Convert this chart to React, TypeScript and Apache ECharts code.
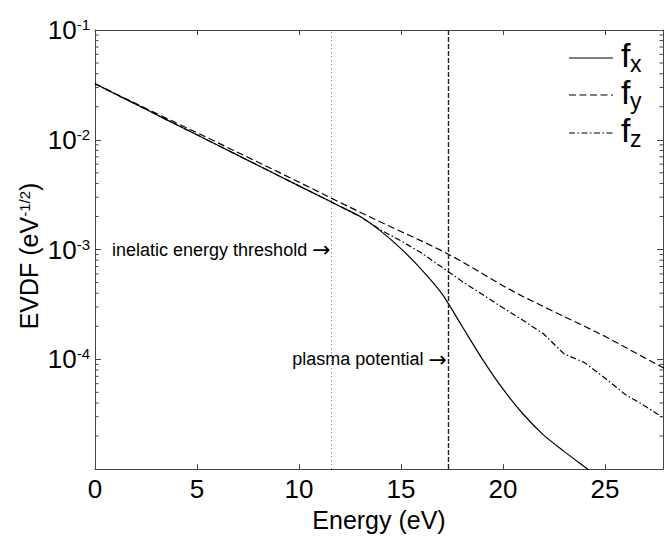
import React, { useEffect, useRef } from "react";
import * as echarts from "echarts";

// ---- data ----
const energy = [0, 1, 2, 3, 4, 5, 6, 7, 8, 9, 10, 11, 12, 13, 14, 15, 16, 17, 18, 19, 20, 21, 22, 23, 24, 25, 26, 27, 28];
const fxValues = [3.24e-2, 2.61e-2, 2.11e-2, 1.7e-2, 1.37e-2, 1.11e-2, 8.95e-3, 7.23e-3, 5.83e-3, 4.71e-3, 3.8e-3, 3.08e-3, 2.48e-3, 2.0e-3, 1.48e-3, 1.02e-3, 6.61e-4, 3.98e-4, 2.0e-4, 1.0e-4, 5.37e-5, 3.16e-5, 2.04e-5, 1.45e-5, 1.05e-5, 7.6e-6];
const fyValues = [3.24e-2, 2.63e-2, 2.14e-2, 1.74e-2, 1.42e-2, 1.16e-2, 9.44e-3, 7.67e-3, 6.24e-3, 5.07e-3, 4.12e-3, 3.33e-3, 2.69e-3, 2.19e-3, 1.78e-3, 1.46e-3, 1.2e-3, 9.77e-4, 7.76e-4, 6.03e-4, 4.68e-4, 3.72e-4, 3.02e-4, 2.45e-4, 2.0e-4, 1.62e-4, 1.29e-4, 1.02e-4, 8.13e-5];
const fzValues = [3.24e-2, 2.61e-2, 2.11e-2, 1.7e-2, 1.37e-2, 1.11e-2, 8.95e-3, 7.23e-3, 5.83e-3, 4.71e-3, 3.8e-3, 3.08e-3, 2.48e-3, 2.0e-3, 1.51e-3, 1.2e-3, 9.33e-4, 6.92e-4, 5.13e-4, 3.89e-4, 2.95e-4, 2.26e-4, 1.7e-4, 1.12e-4, 9.33e-5, 6.76e-5, 4.79e-5, 3.72e-5, 2.82e-5];
const seriesNames = ["x", "y", "z"];
const thresholdEnergy = 11.6;
const plasmaPotential = 17.3;
const annotations = [
  { text: "inelatic energy threshold ", x: 11.6, y: 1e-3 },
  { text: "plasma potential ", x: 17.3, y: 1e-4 },
];
const xMin = 0;
const xMax = 27.85;
const xInterval = 5;
const yMin = 1e-5;
const yMax = 1e-1;
const decades = [1e-5, 1e-4, 1e-3, 1e-2];
const minorMultipliers = [2, 3, 4, 5, 6, 7, 8, 9];

const FONT = "'Liberation Sans', Arial, Helvetica, sans-serif";
const ARROW_FONT = "'DejaVu Sans', sans-serif";
const AXIS_COLOR = "#444";

const dashY = [7, 3.5];
const dashZ = [6, 2.5, 1.5, 2.5];

export default function App() {
  const ref = useRef<HTMLDivElement>(null);

  useEffect(() => {
    if (!ref.current) return;
    const chart = echarts.init(ref.current, undefined, { renderer: "svg" });

    const toPairs = (vals: number[]) => vals.map((v, i) => [energy[i], v]);
    const minorTicks: number[][] = [];
    decades.forEach((d) => minorMultipliers.forEach((m) => minorTicks.push([0, d * m])));

    const lineSeries = [fxValues, fyValues, fzValues].map((vals, i) => ({
      type: "line",
      name: "f" + seriesNames[i],
      data: toPairs(vals),
      xAxisIndex: 0,
      yAxisIndex: 0,
      showSymbol: false,
      symbol: "none",
      smooth: i === 0 ? 0.25 : false,
      clip: true,
      lineStyle: {
        color: "#000",
        width: 1.2,
        type: i === 0 ? "solid" : i === 1 ? dashY : dashZ,
      },
      z: 3,
    }));

    const yLabelRich = {
      b: { fontSize: 26, lineHeight: 26, fontFamily: FONT, color: "#000", padding: [5, 0, 5, 0] },
      s: { fontSize: 15, lineHeight: 15, fontFamily: FONT, color: "#000", verticalAlign: "top" },
    };

    const legendRows = [58, 95, 133];
    const legendDash = [null, dashY, dashZ];
    const graphics: any[] = [];
    legendRows.forEach((ly, i) => {
      graphics.push({
        type: "line",
        shape: { x1: 569, y1: ly, x2: 613, y2: ly },
        style: { stroke: "#000", lineWidth: 1.2, lineDash: legendDash[i] || undefined },
      });
      graphics.push({
        type: "text",
        x: 621,
        y: ly - 3,
        style: { text: "f", fontSize: 34, fontFamily: FONT, fill: "#000", verticalAlign: "middle", align: "left" },
      });
      graphics.push({
        type: "text",
        x: 630,
        y: ly + 5.5,
        style: { text: seriesNames[i], fontSize: 23, fontFamily: FONT, fill: "#000", verticalAlign: "middle", align: "left" },
      });
    });
    // y-axis title
    graphics.push({
      type: "text",
      x: 29,
      y: 256,
      rotation: Math.PI / 2,
      style: {
        text: "{a|EVDF (eV}{s|-1/2}{a|)}",
        align: "center",
        verticalAlign: "middle",
        rich: {
          a: { fontSize: 25, lineHeight: 25, fontFamily: FONT, fill: "#000", color: "#000" },
          s: { fontSize: 15, lineHeight: 15, fontFamily: FONT, fill: "#000", color: "#000", verticalAlign: "top" },
        },
      },
    });

    chart.setOption({
      animation: false,
      backgroundColor: "#fff",
      grid: { left: 95, top: 30, width: 568, height: 449, containLabel: false },
      xAxis: [
        {
          type: "value",
          min: xMin,
          max: xMax,
          interval: xInterval,
          position: "bottom",
          name: "Energy (eV)",
          nameLocation: "middle",
          nameGap: 33,
          nameTextStyle: { fontSize: 25, fontFamily: FONT, color: "#000" },
          axisLine: { show: true, onZero: false, lineStyle: { color: AXIS_COLOR, width: 1 } },
          axisTick: { show: true, inside: true, length: 5, lineStyle: { color: AXIS_COLOR } },
          axisLabel: { fontSize: 26, fontFamily: FONT, color: "#000", margin: 7, showMaxLabel: false },
          splitLine: { show: false },
        },
        {
          type: "value",
          min: xMin,
          max: xMax,
          interval: xInterval,
          position: "top",
          axisLine: { show: true, onZero: false, lineStyle: { color: AXIS_COLOR, width: 1 } },
          axisTick: { show: true, inside: true, length: 5, lineStyle: { color: AXIS_COLOR } },
          axisLabel: { show: false },
          splitLine: { show: false },
        },
      ],
      yAxis: [
        {
          type: "log",
          logBase: 10,
          min: yMin,
          max: yMax,
          position: "left",
          axisLine: { show: true, onZero: false, lineStyle: { color: AXIS_COLOR, width: 1 } },
          axisTick: { show: true, inside: true, length: 6, lineStyle: { color: AXIS_COLOR } },
          axisLabel: {
            margin: 5,
            showMinLabel: false,
            formatter: (v: number) => `{b|10}{s|${Math.round(Math.log10(v))}}`,
            rich: yLabelRich,
          },
          splitLine: { show: false },
        },
        {
          type: "log",
          logBase: 10,
          min: yMin,
          max: yMax,
          position: "right",
          axisLine: { show: true, onZero: false, lineStyle: { color: AXIS_COLOR, width: 1 } },
          axisTick: { show: true, inside: true, length: 6, lineStyle: { color: AXIS_COLOR } },
          axisLabel: { show: false },
          splitLine: { show: false },
        },
      ],
      series: [
        ...lineSeries,
        {
          type: "scatter",
          xAxisIndex: 0,
          yAxisIndex: 0,
          symbolSize: 0,
          silent: true,
          itemStyle: { color: "#000", opacity: 1 },
          data: annotations.map((a) => ({
            value: [a.x, a.y],
            label: { formatter: `{t|${a.text}}{r|\u2192}` },
          })),
          label: {
            show: true,
            position: "left",
            distance: 1,
            opacity: 1,
            rich: {
              t: { fontSize: 18, fontFamily: FONT, color: "#000" },
              r: { fontSize: 22, fontFamily: ARROW_FONT, color: "#000" },
            },
          },
          markLine: {
            silent: true,
            symbol: ["none", "none"],
            label: { show: false },
            data: [
              { xAxis: thresholdEnergy, lineStyle: { color: "#777", width: 1, type: [1, 3] } },
              { xAxis: plasmaPotential, lineStyle: { color: "#222", width: 1.4, type: [5, 2] } },
            ],
          },
          z: 4,
        },
        {
          type: "custom",
          xAxisIndex: 0,
          yAxisIndex: 0,
          silent: true,
          data: minorTicks,
          encode: { x: 0, y: 1 },
          renderItem: (params: any, api: any) => {
            const p = api.coord([0, api.value(1)]);
            const cs = params.coordSys;
            const st = { stroke: AXIS_COLOR, lineWidth: 1 };
            return {
              type: "group",
              children: [
                { type: "line", shape: { x1: cs.x, y1: p[1], x2: cs.x + 3.5, y2: p[1] }, style: st },
                { type: "line", shape: { x1: cs.x + cs.width - 3.5, y1: p[1], x2: cs.x + cs.width, y2: p[1] }, style: st },
              ],
            };
          },
          z: 5,
        },
      ],
      graphic: graphics,
    });

    return () => chart.dispose();
  }, []);

  return (
    <div
      ref={ref}
      style={{ position: "fixed", left: 0, top: 0, width: 664, height: 537, background: "#fff" }}
    />
  );
}
